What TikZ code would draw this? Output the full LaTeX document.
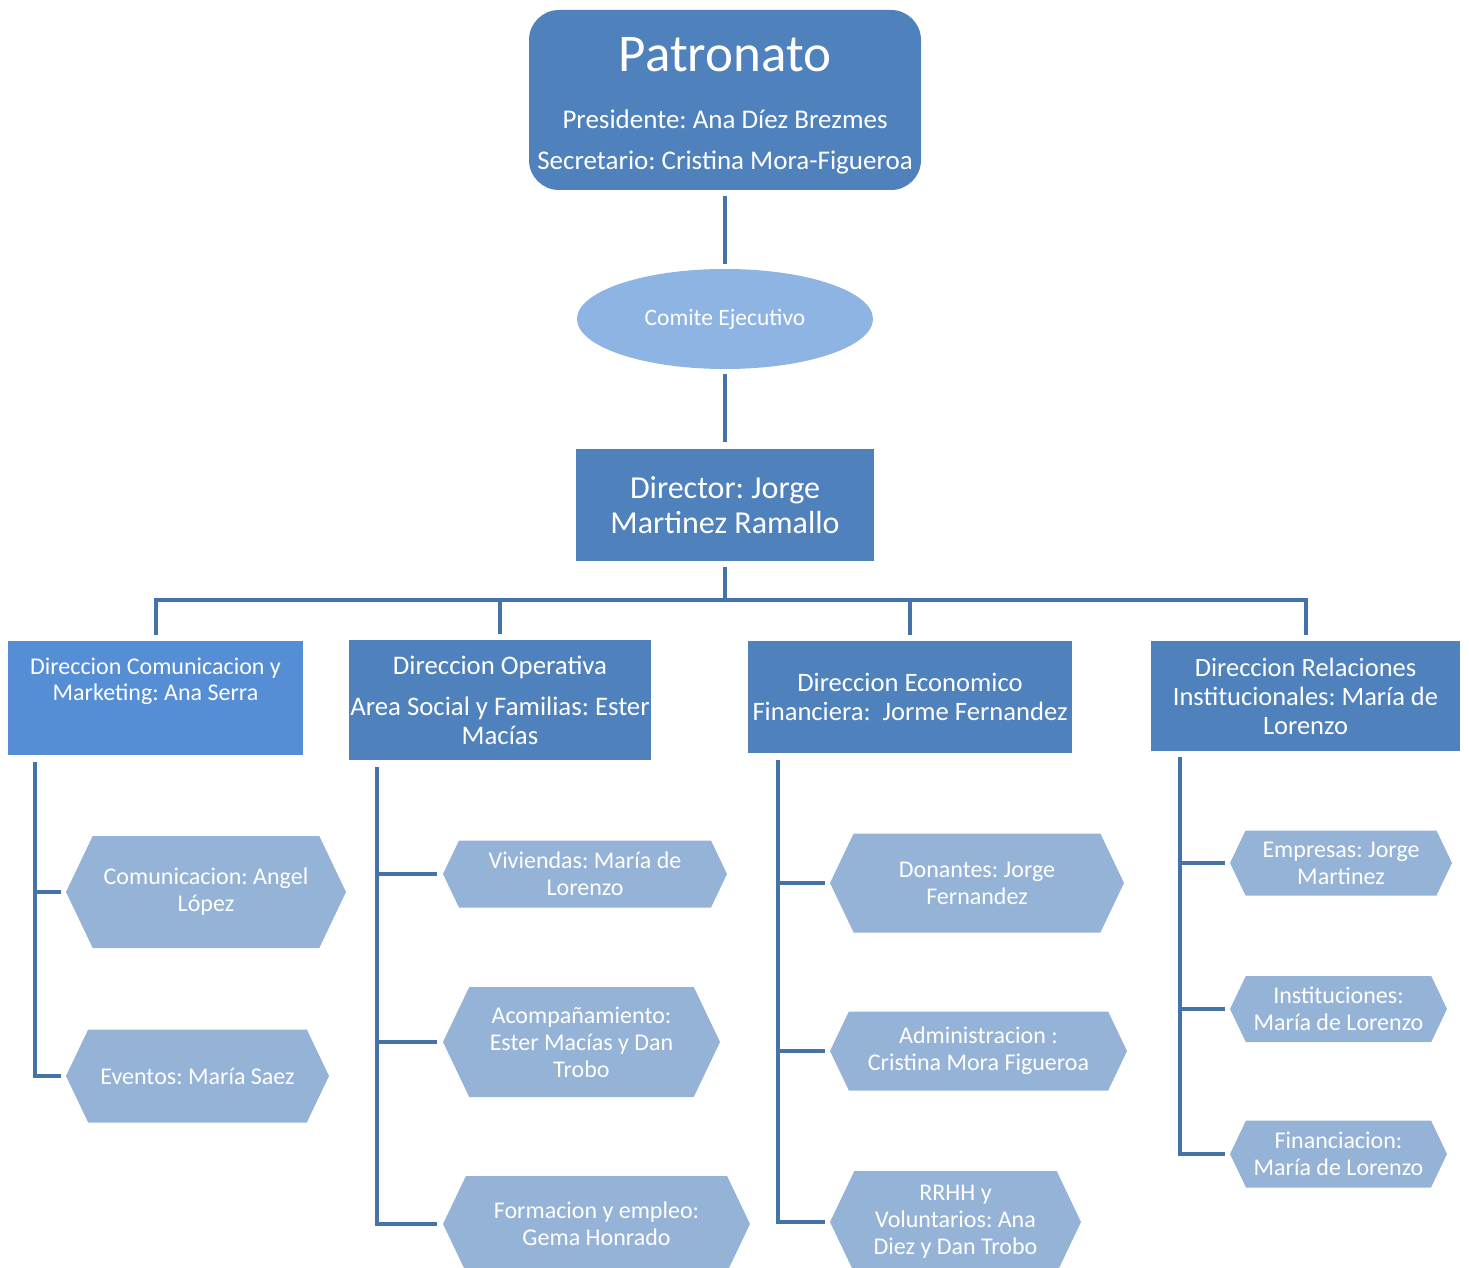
\documentclass[tikz,border=0pt]{standalone}
\usepackage{fontspec}
\setmainfont{Carlito}
\usepackage{tikz}
\usetikzlibrary{shapes.geometric, shapes.symbols, positioning}
\definecolor{colorBox}{HTML}{4F81BD}
\definecolor{colorBoxLight}{HTML}{558ED5}
\definecolor{colorComite}{HTML}{8EB4E3}
\definecolor{colorHex}{HTML}{95B3D7}
\definecolor{colorLine}{HTML}{4672AA}
\frenchspacing
\tikzset{
  box/.style={fill=colorBox, text=white, align=center, inner sep=0pt},
  hexa/.style 2 args={shape=signal, signal to=east and west, signal pointer angle=129,
    fill=colorHex, text=white, align=center, inner sep=0pt,
    minimum width=#1, minimum height=#2, font=\fontsize{24}{27}\selectfont},
  conn/.style={draw=colorLine, line width=4pt},
}

\begin{document}
\begin{tikzpicture}[x=1pt, y=-1pt]
\useasboundingbox (0,0) rectangle (1469,1268);

% top of the chart
\node[box, rounded corners=30pt, minimum width=392pt, minimum height=180pt] (pat) at (725,100) {};
\node[text=white, align=center, inner sep=0pt, font=\fontsize{27}{41}\selectfont] (patText) at (725,113) {{\fontsize{53}{53}\selectfont Patronato}\\[16pt]Presidente: Ana Díez Brezmes\\Secretario: Cristina Mora-Figueroa\\[-22pt]\mbox{}};
\node[ellipse, fill=colorComite, text=white, inner sep=0pt, minimum width=296pt, minimum height=100pt, font=\fontsize{23.5}{25}\selectfont] (com) at (725,319) {Comite Ejecutivo};
\node[box, minimum width=298pt, minimum height=112pt, font=\fontsize{32}{35}\selectfont] (dir) at (725,505) {Director: Jorge\\Martinez Ramallo};

% direcciones
\node[box, fill=colorBoxLight, minimum width=295pt, minimum height=114pt, font=\fontsize{24}{26}\selectfont] (d1) at (155.5,698) {Direccion Comunicacion y\\Marketing: Ana Serra\\[12pt]\mbox{}};
\node[box, minimum width=302pt, minimum height=120pt, font=\fontsize{26.8}{29}\selectfont] (d2) at (500,700) {Direccion Operativa\\[12pt]Area Social y Familias: Ester\\Macías};
\node[box, minimum width=324pt, minimum height=112pt, font=\fontsize{26.6}{29}\selectfont] (d3) at (910,697) {Direccion Economico\\Financiera:\ \ Jorme Fernandez};
\node[box, minimum width=309pt, minimum height=110pt, font=\fontsize{26.5}{29}\selectfont] (d4) at (1305.5,696) {Direccion Relaciones\\Institucionales: María de\\Lorenzo};

% areas
\node[hexa={280pt}{112pt}] (h11) at (206,892) {Comunicacion: Angel\\López};
\node[hexa={263pt}{93pt}] (h12) at (197.5,1076) {Eventos: María Saez};
\node[hexa={284pt}{67pt}] (h21) at (585,874) {Viviendas: María de\\Lorenzo};
\node[hexa={277pt}{110pt}] (h22) at (581.5,1042) {Acompañamiento:\\Ester Macías y Dan\\Trobo};
\node[hexa={307pt}{96pt}] (h23) at (596.5,1224) {Formacion y empleo:\\Gema Honrado};
\node[hexa={294pt}{99pt}] (h31) at (977,883) {Donantes: Jorge\\Fernandez};
\node[hexa={297pt}{79pt}] (h32) at (978.5,1051) {Administracion :\\Cristina Mora Figueroa};
\node[hexa={251pt}{102pt}] (h33) at (955.5,1222) {RRHH y\\Voluntarios: Ana\\Diez y Dan Trobo};
\node[hexa={222pt}{65pt}] (h41) at (1341,863) {Empresas: Jorge\\Martinez};
\node[hexa={217pt}{66pt}] (h42) at (1338.5,1009) {Instituciones:\\María de Lorenzo};
\node[hexa={217pt}{67pt}] (h43) at (1338.5,1154) {Financiacion:\\María de Lorenzo};

% connectors
\coordinate (bus) at (725,600);
\draw[conn, shorten <=6pt, shorten >=5pt] (pat) -- (com);
\draw[conn, shorten <=5pt, shorten >=7pt] (com) -- (dir);
\draw[conn, shorten <=6pt] (dir) -- (bus);
\draw[conn, shorten >=6pt] (bus) -| (d1.north);
\draw[conn, shorten >=6pt] (bus) -| (d2.north);
\draw[conn, shorten >=6pt] (bus) -| (d3.north);
\draw[conn, shorten >=6pt] (bus) -| (d4.north);

\draw[conn, shorten <=7pt, shorten >=5pt] ([xshift=27pt]d1.south west) |- (h11.west);
\draw[conn, shorten <=7pt, shorten >=5pt] ([xshift=27pt]d1.south west) |- (h12.west);
\draw[conn, shorten <=7pt, shorten >=6pt] ([xshift=28pt]d2.south west) |- (h21.west);
\draw[conn, shorten <=7pt, shorten >=6pt] ([xshift=28pt]d2.south west) |- (h22.west);
\draw[conn, shorten <=7pt, shorten >=6pt] ([xshift=28pt]d2.south west) |- (h23.west);
\draw[conn, shorten <=7pt, shorten >=5pt] ([xshift=30pt]d3.south west) |- (h31.west);
\draw[conn, shorten <=7pt, shorten >=5pt] ([xshift=30pt]d3.south west) |- (h32.west);
\draw[conn, shorten <=7pt, shorten >=5pt] ([xshift=30pt]d3.south west) |- (h33.west);
\draw[conn, shorten <=6pt, shorten >=5pt] ([xshift=29pt]d4.south west) |- (h41.west);
\draw[conn, shorten <=6pt, shorten >=5pt] ([xshift=29pt]d4.south west) |- (h42.west);
\draw[conn, shorten <=6pt, shorten >=5pt] ([xshift=29pt]d4.south west) |- (h43.west);
\end{tikzpicture}
\end{document}
